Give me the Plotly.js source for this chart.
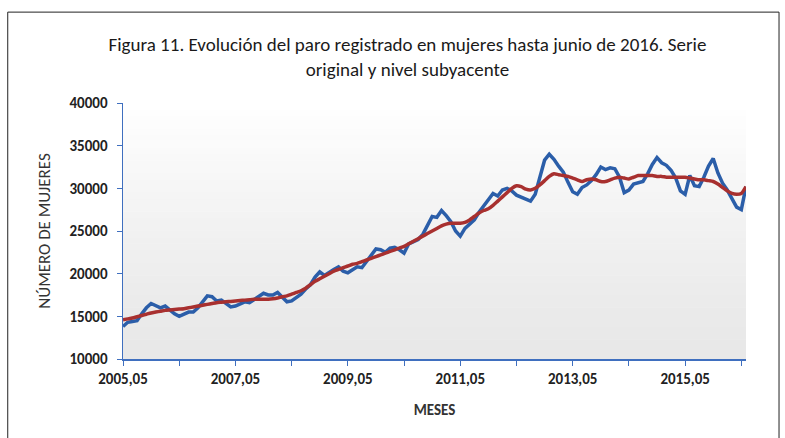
<!DOCTYPE html>
<html>
<head>
<meta charset="utf-8">
<script src="https://cdn.plot.ly/plotly-3.0.1.min.js"></script>
<style>
  html, body { margin: 0; padding: 0; background: #fff; }
  #chart { width: 785px; height: 438px; }
</style>
</head>
<body>
<div id="chart"></div>
<script>
// meses: 2005,05 ... 2016,06
let months = []
for (let y = 2005; y <= 2016; y++) {
  for (let m = 1; m <= 12; m++) {
    if (y === 2005 && m < 5) continue
    if (y === 2016 && m > 6) break
    months.push(y + ',' + (m < 10 ? '0' + m : m))
  }
}

// serie original (paro registrado mujeres)
let original = [
  13800, 14300, 14400, 14500, 15300, 16000, 16500, 16300, 16000, 16200, 15700, 15300,
  15000, 15200, 15500, 15500, 16000, 16700, 17400, 17300, 16800, 16900, 16500, 16100,
  16200, 16400, 16700, 16600, 17000, 17400, 17700, 17500, 17500, 17800, 17200, 16700,
  16800, 17200, 17600, 18200, 18700, 19600, 20200, 19800, 20200, 20500, 20800, 20300,
  20100, 20500, 20800, 20700, 21400, 22200, 22900, 22800, 22500, 23000, 23100, 22800,
  22400, 23500, 23700, 24000, 24600, 25600, 26700, 26600, 27400, 26800, 26100, 25000,
  24400, 25300, 25800, 26300, 27200, 27900, 28700, 29400, 29100, 29800, 30000, 29700,
  29200, 29000, 28700, 28500, 29300, 31200, 33300, 34000, 33400, 32600, 31900, 30700,
  29600, 29300, 30100, 30400, 30900, 31600, 32500, 32200, 32400, 32300, 31300, 29500,
  29800, 30500, 30700, 30800, 31700, 32800, 33600, 33000, 32700, 32100, 31200, 29700,
  29300, 31500, 30300, 30200, 31300, 32600, 33500, 31800, 30600, 29800, 28800, 27800,
  27500, 30200
]

// nivel subyacente
let trend = [
  14600, 14700, 14800, 14950, 15100, 15250, 15400, 15500, 15600, 15700, 15750, 15800,
  15850, 15900, 16000, 16100, 16200, 16300, 16400, 16500, 16600, 16650, 16700, 16750,
  16800, 16850, 16900, 16950, 17000, 17000, 17000, 17000, 17050, 17150, 17300, 17400,
  17600, 17800, 18000, 18300, 18700, 19100, 19400, 19700, 20000, 20300, 20500, 20700,
  20900, 21100, 21200, 21400, 21600, 21800, 22000, 22200, 22400, 22600, 22800, 23000,
  23200, 23500, 23800, 24100, 24400, 24700, 25000, 25300, 25600, 25800, 25900, 25900,
  25900, 26000, 26300, 26700, 27100, 27400, 27600, 28000, 28500, 29000, 29500, 30000,
  30300, 30200, 29900, 29800, 30000, 30400, 30900, 31400, 31700, 31600, 31500, 31400,
  31200, 31000, 30800, 31000, 31100, 31000, 30800, 30800, 31000, 31200, 31300, 31200,
  31100, 31300, 31500, 31500, 31500, 31500, 31400, 31400, 31300, 31300, 31300, 31300,
  31300, 31200, 31100, 31000, 31000, 30900, 30800, 30500, 30100, 29700, 29400, 29300,
  29400, 30200
]

let yTicks = [10000, 15000, 20000, 25000, 30000, 35000, 40000]
let tickVals = months.filter(function (m, i) { return i % 12 === 0 })
let tickText = tickVals.map(function (m, i) { return i % 2 === 0 ? m : '' })

let font = 'Carlito, Lato, "Liberation Sans", sans-serif'
let axisBlue = '#3f6fbf'

let trace1 = {
  type: 'scatter',
  mode: 'lines',
  name: 'Serie original',
  x: months,
  y: original,
  line: { color: '#2b5ea9', width: 3.5 },
  hoverinfo: 'skip'
}
let trace2 = {
  type: 'scatter',
  mode: 'lines',
  name: 'Nivel subyacente',
  x: months,
  y: trend,
  line: { color: '#a8302f', width: 3.5, shape: 'spline', smoothing: 0.6 },
  hoverinfo: 'skip'
}

// fondo degradado del área de trazado
let shapes = []
let bands = 40
for (let k = 0; k < bands; k++) {
  let t = k / (bands - 1)
  let g = Math.round(232 + (255 - 232) * Math.pow(t, 1.3))
  shapes.push({
    type: 'rect', xref: 'paper', yref: 'paper', layer: 'below',
    x0: 0, x1: 1, y0: k / bands, y1: (k + 1) / bands + 0.002,
    line: { width: 0 }, fillcolor: 'rgb(' + g + ',' + g + ',' + g + ')'
  })
}
// marco exterior
shapes.push({
  type: 'rect', xref: 'paper', yref: 'paper', layer: 'above',
  x0: -0.185, x1: 1.053, y0: -0.4, y1: 1.355,
  line: { color: '#222', width: 1 }, fillcolor: 'rgba(0,0,0,0)'
})

let layout = {
  width: 785,
  height: 438,
  autosize: false,
  margin: { l: 123, r: 39, t: 103, b: 79, pad: 0 },
  paper_bgcolor: '#ffffff',
  plot_bgcolor: 'rgba(0,0,0,0)',
  showlegend: false,
  title: {
    text: 'Figura 11. Evolución del paro registrado en mujeres hasta junio de 2016. Serie<br>original y nivel subyacente',
    font: { family: font, size: 19, color: '#1a1a1a' },
    x: 0.519, xanchor: 'center',
    y: 0.884, yanchor: 'middle'
  },
  xaxis: {
    type: 'category',
    range: [0, months.length - 1],
    tickmode: 'array',
    tickvals: tickVals,
    ticktext: tickText,
    ticks: 'outside',
    ticklen: 5,
    tickwidth: 1,
    tickcolor: axisBlue,
    showline: true,
    linecolor: axisBlue,
    linewidth: 1.5,
    showgrid: false,
    zeroline: false,
    tickangle: 0,
    tickfont: { family: font, size: 15, color: '#222', weight: 'bold' },
    title: {
      text: '<b>MESES</b>',
      font: { family: font, size: 15, color: '#333' },
      standoff: 18
    }
  },
  yaxis: {
    range: [10000, 40000],
    tickmode: 'array',
    tickvals: yTicks,
    ticktext: yTicks.map(String),
    ticks: 'outside',
    ticklen: 5,
    tickwidth: 1,
    tickcolor: axisBlue,
    ticklabelstandoff: 6,
    showline: true,
    linecolor: axisBlue,
    linewidth: 1.5,
    showgrid: false,
    zeroline: false,
    tickfont: { family: font, size: 15, color: '#222', weight: 'bold' },
    title: {
      text: 'NÚMERO DE MUJERES',
      font: { family: font, size: 17, color: '#333' },
      standoff: 14
    }
  },
  shapes: shapes
}

Plotly.newPlot('chart', [trace1, trace2], layout, { displayModeBar: false, staticPlot: true })
</script>
</body>
</html>
